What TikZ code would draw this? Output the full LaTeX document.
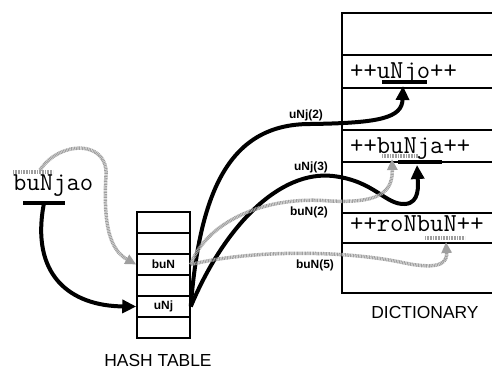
\documentclass[tikz,border=0pt]{standalone}
\usepackage{fontspec}
\setmainfont{Liberation Sans}
\usetikzlibrary{arrows.meta}

\tikzset{
    hashcell/.style={draw, line width=1.5bp, minimum width=53bp, minimum height=21bp, inner sep=0pt, font=\bfseries\fontsize{12}{12}\selectfont},
    wordtext/.style={font=\ttfamily\fontsize{26}{26}\selectfont, inner sep=0pt, anchor=base west},
    hitarrow/.style={line width=4bp, -{Triangle[length=14bp,width=13bp]}},
    missarrow/.style={draw=gray!75, line width=3.5bp, dash pattern=on 1bp off 0.6bp, -{Triangle[length=11bp,width=10bp]}},
    hitbar/.style={line width=4bp},
    missbar/.style={draw=gray!75, line width=3.5bp, dash pattern=on 1bp off 0.6bp},
    countlabel/.style={font=\bfseries\fontsize{12}{12}\selectfont, inner sep=0pt},
    titlelabel/.style={font=\fontsize{17.5}{17.5}\selectfont, inner sep=0pt}
}

\begin{document}
\begin{tikzpicture}[x=1bp, y=-1bp]

    \useasboundingbox (0,0) rectangle (492,371);

    % hash table
    \foreach \i/\t in {1/,2/,3/buN,4/,5/uNj,6/}
        \node[hashcell] (h\i) at (163.5,201.5+21*\i) {\t};

    \node[titlelabel] (hashtitle) at (158,360) {HASH TABLE};

    % dictionary
    \draw[line width=1.5bp]
    (492,13)
    -- (342,13)
    -- (342,293)
    -- (492,293);

    \foreach \y in {55,88,130,162,213,243}
        \draw[line width=1.5bp] (342,\y) -- (492,\y);

    \node[wordtext] (word1) at (350,78) {++uNjo++};
    \node[wordtext] (word2) at (350,153) {++buNja++};
    \node[wordtext] (word3) at (350,231) {++roNbuN++};

    \node[titlelabel] (dicttitle) at (425,312) {DICTIONARY};

    % the key
    \node[wordtext] (key) at (13,190) {buNjao};

    \draw[hitbar] (23,203) -- (65,203);
    \draw[missbar] (13,172) -- (53,172);

    \coordinate (keyhit) at (44,203);
    \coordinate (keymiss) at (40,170);

    \draw[hitarrow] (keyhit) .. controls (30,275) and (70,306) .. (h5.west);
    \draw[missarrow] (keymiss) .. controls (60,140) and (108,140) .. (106,175)
        .. controls (103,225) and (110,250) .. (h3.west);

    % matches in the dictionary
    \draw[hitbar] (382,82) -- (427,82);
    \draw[hitbar] (398,162) -- (442,162);
    \draw[missbar] (382,156) -- (418,156);
    \draw[missbar] (425,238) -- (465,238);

    \coordinate (hit1) at (403,86);
    \coordinate (hit2) at (417,165);
    \coordinate (miss1) at (392,159);
    \coordinate (miss2) at (446,242);

    \draw[hitarrow] (h5.east) .. controls (200,190) and (230,124) .. (310,124)
        .. controls (380,123) and (402,118) .. (hit1);
    \draw[hitarrow] (h5.east) .. controls (225,225) and (280,170) .. (333,176)
        .. controls (375,181) and (385,205) .. (405,204)
        .. controls (420,203) and (418,185) .. (hit2);
    \draw[missarrow] (h3.east) .. controls (205,225) and (260,195) .. (330,201)
        .. controls (375,203) and (393,195) .. (miss1);
    \draw[missarrow] (h3.east) .. controls (250,250) and (340,250) .. (400,262)
        .. controls (445,272) and (447,260) .. (miss2);

    \node[countlabel] (count1) at (306,115) {uNj(2)};
    \node[countlabel] (count2) at (311,167) {uNj(3)};
    \node[countlabel] (count3) at (309,212) {buN(2)};
    \node[countlabel] (count4) at (315,265) {buN(5)};

\end{tikzpicture}
\end{document}
